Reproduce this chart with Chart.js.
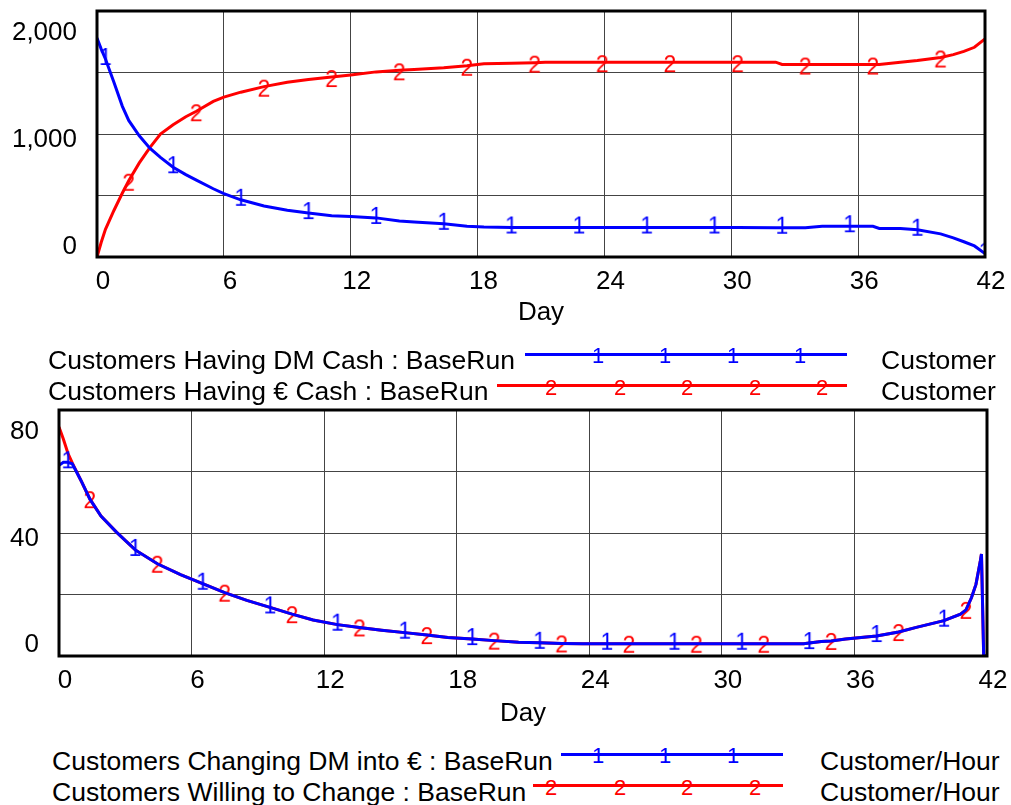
<!DOCTYPE html>
<html>
<head>
<meta charset="utf-8">
<script src="https://cdn.jsdelivr.net/npm/chart.js@4.4.1/dist/chart.umd.min.js"></script>
<style>
  body { margin: 0; width: 1011px; height: 805px; overflow: hidden; position: relative; background: #fff;
         font-family: Arial, "Liberation Sans", sans-serif; }
  canvas { position: absolute; left: 0; }
  .t { position: absolute; font-size: 26.5px; line-height: 26px; white-space: nowrap; color: #000; }
  .ln { position: absolute; height: 3px; }
  .mk { position: absolute; font-size: 22px; line-height: 1; transform: translate(-50%, -50%); }
  .blue { color: #0000ff; } .red { color: #ff0000; }
</style>
</head>
<body>
<canvas id="topChart" width="1040" height="355" style="top:-25px;width:1040px;height:355px"></canvas>
<canvas id="bottomChart" width="1040" height="355" style="top:374px;width:1040px;height:355px"></canvas>

<!-- legend, top panel -->
<div class="t" style="left:48px;top:347px">Customers Having DM Cash : BaseRun</div>
<div class="ln" style="left:525px;top:353px;width:322px;background:#0000ff"></div>
<span class="mk blue" style="left:598px;top:356px">1</span>
<span class="mk blue" style="left:665px;top:356px">1</span>
<span class="mk blue" style="left:733px;top:356px">1</span>
<span class="mk blue" style="left:800px;top:356px">1</span>
<div class="t" style="left:881px;top:347px">Customer</div>

<div class="t" style="left:48px;top:378px">Customers Having € Cash : BaseRun</div>
<div class="ln" style="left:497px;top:384px;width:350px;background:#ff0000"></div>
<span class="mk red" style="left:551px;top:388px">2</span>
<span class="mk red" style="left:620px;top:388px">2</span>
<span class="mk red" style="left:687px;top:388px">2</span>
<span class="mk red" style="left:755px;top:388px">2</span>
<span class="mk red" style="left:822px;top:388px">2</span>
<div class="t" style="left:881px;top:378px">Customer</div>

<!-- legend, bottom panel -->
<div class="t" style="left:52px;top:748px">Customers Changing DM into € : BaseRun</div>
<div class="ln" style="left:561px;top:753px;width:222px;background:#0000ff"></div>
<span class="mk blue" style="left:598px;top:756px">1</span>
<span class="mk blue" style="left:665px;top:756px">1</span>
<span class="mk blue" style="left:733px;top:756px">1</span>
<div class="t" style="left:820px;top:748px">Customer/Hour</div>

<div class="t" style="left:52px;top:779px">Customers Willing to Change : BaseRun</div>
<div class="ln" style="left:533px;top:784px;width:250px;background:#ff0000"></div>
<span class="mk red" style="left:551px;top:788px">2</span>
<span class="mk red" style="left:620px;top:788px">2</span>
<span class="mk red" style="left:687px;top:788px">2</span>
<span class="mk red" style="left:755px;top:788px">2</span>
<div class="t" style="left:820px;top:779px">Customer/Hour</div>

<script>
'use strict';

// x axis (days) shared by both panels
const xTicks = [0, 6, 12, 18, 24, 30, 36, 42];

// top panel: customers holding each currency
const topDays = [0, 0.2, 0.4, 0.8, 1.2, 1.5, 2, 2.5, 3, 3.6, 4.2, 4.7, 5.5, 6, 6.8, 7.9, 9, 10, 11.1, 12,
  13.2, 14.3, 15, 16.4, 17.5, 18.3, 19.6, 20.7, 21.2, 22.8, 23.9, 26, 27.1, 29.2, 30.3, 32.1, 32.4, 33.5,
  34.3, 35.6, 36.7, 37, 38, 38.8, 39.9, 40.5, 41, 41.5, 42];
const dmCash = [1780, 1690, 1610, 1420, 1225, 1110, 985, 885, 810, 730, 670, 625, 555, 515, 465, 415, 380,
  357, 336, 330, 318, 292, 284, 270, 250, 244, 240, 240, 240, 240, 240, 240, 240, 240, 240, 238, 238, 238,
  250, 250, 250, 232, 232, 222, 188, 156, 124, 90, 28];
const euroCash = [0, 120, 225, 378, 520, 620, 765, 890, 1000, 1075, 1140, 1185, 1265, 1300, 1340, 1385, 1420,
  1443, 1463, 1480, 1505, 1518, 1525, 1538, 1555, 1571, 1575, 1580, 1584, 1584, 1584, 1584, 1584, 1584, 1584,
  1584, 1565, 1565, 1565, 1565, 1565, 1565, 1584, 1598, 1622, 1645, 1672, 1705, 1774];
const dmMarkDays = [0.4, 3.6, 6.8, 10, 13.2, 16.4, 19.6, 22.8, 26, 29.2, 32.4, 35.6, 38.8, 42];
const euroMarkDays = [1.5, 4.7, 7.9, 11.1, 14.3, 17.5, 20.7, 23.9, 27.1, 30.3, 33.5, 36.7, 39.9];
const topYLabels = [0, 1000, 2000];

// bottom panel: flows per hour
const bottomDays = [0, 0.2, 0.4, 0.6, 1, 1.4, 1.9, 2.6, 3.45, 4.45, 5.5, 6.5, 7.5, 8.5, 9.55, 10.55, 11.5,
  12.6, 13.6, 14.6, 15.65, 16.65, 17.6, 18.7, 19.7, 20.8, 21.75, 22.75, 23.7, 24.8, 25.8, 27.85, 28.85, 30.9,
  31.9, 33.7, 33.95, 34.5, 34.95, 35.6, 37, 38, 38.8, 40.05, 40.8, 41.05, 41.3, 41.5, 41.7, 41.75, 41.85, 42];
const changingDM = [62, 63, 63, 62.5, 57, 51, 45.5, 40.3, 34.5, 30, 26.5, 23.5, 20.6, 18.1, 15.8, 13.6, 11.7,
  10.2, 9.3, 8.4, 7.6, 6.8, 6.0, 5.5, 5.0, 4.5, 4.3, 4.1, 4.0, 4.0, 4.0, 4.0, 4.0, 4.0, 4.0, 4.0, 4.2, 4.7,
  4.9, 5.5, 6.5, 7.8, 9.3, 11.5, 13.6, 15, 19, 23.3, 31, 33.2, 0, 0];
const willingToChange = [74.5, 70.5, 66, 62.8, 57, 51, 45.5, 40.3, 34.5, 30, 26.5, 23.5, 20.6, 18.1, 15.8, 13.6,
  11.7, 10.2, 9.3, 8.4, 7.6, 6.8, 6.0, 5.5, 5.0, 4.5, 4.3, 4.1, 4.0, 4.0, 4.0, 4.0, 4.0, 4.0, 4.0, 4.0, 4.2,
  4.7, 4.9, 5.5, 6.5, 7.8, 9.3, 11.5, 13.6, 15, 19, 23.3, 31, 33.2, 0, 0];
const changingMarkDays = [0.4, 3.45, 6.5, 9.55, 12.6, 15.65, 18.7, 21.75, 24.8, 27.85, 30.9, 33.95, 37, 40.05];
const willingMarkDays = [1.4, 4.45, 7.5, 10.55, 13.6, 16.65, 19.7, 22.75, 25.8, 28.85, 31.9, 34.95, 38, 41.05];
const bottomYLabels = [0, 40, 80];

const BLUE = '#0000ff';
const RED = '#ff0000';
const GRID = '#444444';

Chart.defaults.font.family = 'Arial, "Liberation Sans", sans-serif';
Chart.defaults.color = '#000';

// number glyph used as the point style (Vensim style "1" / "2" markers)
function glyph(ch, color, dy) {
  const c = document.createElement('canvas');
  c.width = 20;
  c.height = 34;
  const g = c.getContext('2d');
  g.font = '23px Arial, "Liberation Sans", sans-serif';
  g.fillStyle = color;
  g.textAlign = 'center';
  g.textBaseline = 'middle';
  g.fillText(ch, 10, 17 + dy);
  return c;
}

function series(label, days, values, markDays, color, mark) {
  return {
    label: label,
    data: days.map((d, i) => ({ x: d, y: values[i] })),
    yAxisID: 'y',
    borderColor: color,
    borderWidth: 3,
    fill: false,
    pointStyle: mark,
    pointRadius: ctx => (ctx.type === 'data' && markDays.includes(days[ctx.dataIndex])) ? 8 : 0,
    pointHoverRadius: 0
  };
}

const framePlugin = {
  id: 'frame',
  afterDatasetsDraw(chart) {
    const a = chart.chartArea;
    const ctx = chart.ctx;
    ctx.save();
    ctx.strokeStyle = '#000';
    ctx.lineWidth = 3;
    ctx.strokeRect(a.left, a.top, a.right - a.left, a.bottom - a.top);
    ctx.restore();
  }
};

function makeChart(id, datasets, cfg) {
  return new Chart(document.getElementById(id), {
    type: 'line',
    data: { datasets: datasets },
    options: {
      responsive: false,
      animation: false,
      events: [],
      layout: { padding: { top: 36, right: cfg.padRight, left: 0, bottom: 0 } },
      plugins: { legend: { display: false }, tooltip: { enabled: false } },
      scales: {
        x: {
          type: 'linear', min: 0, max: 42,
          afterBuildTicks: s => { s.ticks = xTicks.map(v => ({ value: v })); },
          ticks: { font: { size: 26 }, padding: 9, labelOffset: 6, autoSkip: false, maxRotation: 0, color: '#000' },
          grid: { color: GRID, lineWidth: 1, drawTicks: false },
          border: { display: false },
          title: { display: true, text: 'Day', font: { size: 26 }, color: '#000', padding: { top: 0, bottom: cfg.titlePad } },
          afterFit: s => { s.height = 73; }
        },
        y: {
          type: 'linear', min: 0, max: cfg.yMax,
          ticks: { display: false, stepSize: cfg.yStep },
          grid: { color: GRID, lineWidth: 1, drawTicks: false },
          border: { display: false },
          afterFit: s => { s.width = 0; }
        },
        yl: {
          type: 'linear', position: 'left', min: cfg.labelMin, max: cfg.labelMax,
          afterBuildTicks: s => { s.ticks = cfg.labels.map(v => ({ value: v })); },
          ticks: { font: { size: 26 }, padding: 20, color: '#000', callback: v => v.toLocaleString('en-US') },
          grid: { display: false, drawTicks: false },
          border: { display: false },
          afterFit: s => { s.width = cfg.axisWidth; }
        }
      }
    },
    plugins: [framePlugin]
  });
}

makeChart('topChart', [
  series('Customers Having DM Cash : BaseRun', topDays, dmCash, dmMarkDays, BLUE, glyph('1', BLUE, 0)),
  series('Customers Having € Cash : BaseRun', topDays, euroCash, euroMarkDays, RED, glyph('2', RED, 4))
], { yMax: 2000, yStep: 500, labelMin: -94, labelMax: 2209, labels: topYLabels, axisWidth: 97, padRight: 55, titlePad: 2 });

makeChart('bottomChart', [
  series('Customers Changing DM into € : BaseRun', bottomDays, changingDM, changingMarkDays, BLUE, glyph('1', BLUE, 0)),
  series('Customers Willing to Change : BaseRun', bottomDays, willingToChange, willingMarkDays, RED, glyph('2', RED, 3))
], { yMax: 80, yStep: 20, labelMin: -4.13, labelMax: 88.14, labels: bottomYLabels, axisWidth: 59, padRight: 53, titlePad: 0 });
</script>
</body>
</html>
